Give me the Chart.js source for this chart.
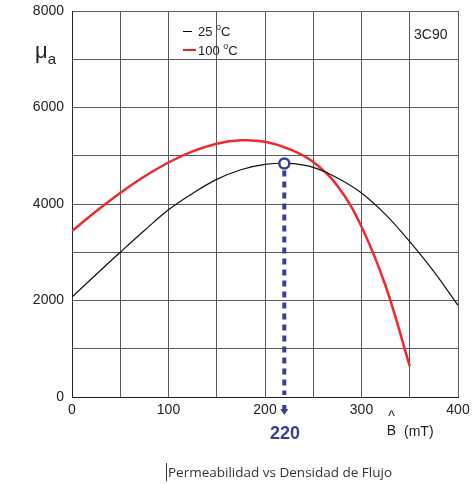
<!DOCTYPE html>
<html>
<head>
<meta charset="utf-8">
<script src="https://cdn.jsdelivr.net/npm/chart.js@4"></script>
<style>
  body { margin: 0; background: #fff; }
  #wrap { position: relative; width: 474px; height: 484px; }
  #chart { position: absolute; left: 0; top: 0; }
  .lbl { position: absolute; font-family: "Liberation Sans", Arial, sans-serif; color: #222; white-space: nowrap; }
  sup { font-size: 9px; vertical-align: 6px; }
</style>
</head>
<body>
<div id="wrap">
  <canvas id="chart" width="474" height="484"></canvas>
  <div class="lbl" style="left:183px;top:20px;font-size:13px;line-height:15px;">
    <div><span style="display:inline-block;width:9px;height:1px;background:#000;vertical-align:4px;margin-right:6px;"></span>25 <sup>o</sup>C</div>
    <div><span style="display:inline-block;width:13px;height:2px;background:#e8222a;vertical-align:4px;margin-right:2px;"></span>100 <sup>o</sup>C</div>
  </div>
  <div class="lbl" style="left:414px;top:26px;font-size:14px;">3C90</div>
  <div class="lbl" style="left:35px;top:38px;font-size:22px;">μ<span style="font-size:15px;vertical-align:-6px;">a</span></div>
  <div class="lbl" style="left:386px;top:409px;font-size:14px;line-height:14px;text-align:center;width:11px;">^<br>B</div>
  <div class="lbl" style="left:404px;top:423px;font-size:14px;">(mT)</div>
  <div class="lbl" style="left:270px;top:423px;font-size:18px;font-weight:bold;color:#3b3f92;">220</div>
  <div class="lbl" style="left:166px;top:463px;font-size:13.5px;font-family:'Open Sans','Noto Sans',sans-serif;color:#333;border-left:1px solid #333;padding-left:1px;line-height:18px;">Permeabilidad vs Densidad de Flujo</div>
</div>
<script>
// B (mT) sample points and permeability
const bField25 = [0, 25, 50, 75, 100, 125, 150, 175, 200, 225, 250, 275, 300, 325, 350, 375, 400];
const mu25 = [2070, 2540, 3000, 3450, 3880, 4220, 4510, 4710, 4820, 4840, 4760, 4540, 4230, 3780, 3220, 2600, 1900];
const bField100 = [0, 25, 50, 75, 100, 125, 150, 175, 200, 225, 250, 275, 300, 325, 350];
const mu100 = [3440, 3850, 4230, 4570, 4860, 5090, 5250, 5320, 5290, 5140, 4870, 4380, 3530, 2300, 640];
const xTicks = [0, 100, 200, 300, 400];
const yTicks = [0, 2000, 4000, 6000, 8000];
const markerB = 220;
const markerMu = 4840;

const toPoints = (xs, ys) => xs.map((x, i) => ({ x: x, y: ys[i] }));

// blue marker: circle on the 25 C curve, dotted drop line and arrow under the axis
const markerPlugin = {
  id: 'marker',
  afterDatasetsDraw(chart) {
    const ctx = chart.ctx;
    const xs = chart.scales.x, ys = chart.scales.y;
    const px = xs.getPixelForValue(markerB);
    const py = ys.getPixelForValue(markerMu);
    const bottom = chart.chartArea.bottom;
    ctx.save();
    ctx.strokeStyle = '#3b3f92';
    ctx.fillStyle = '#3b3f92';
    ctx.lineWidth = 4;
    ctx.setLineDash([6, 5]);
    ctx.beginPath();
    ctx.moveTo(px, py + 7);
    ctx.lineTo(px, bottom - 2);
    ctx.stroke();
    ctx.setLineDash([]);
    ctx.beginPath();
    ctx.moveTo(px, bottom + 8);
    ctx.lineTo(px, bottom + 13);
    ctx.stroke();
    ctx.beginPath();
    ctx.moveTo(px - 4, bottom + 12);
    ctx.lineTo(px + 4, bottom + 12);
    ctx.lineTo(px, bottom + 18);
    ctx.closePath();
    ctx.fill();
    ctx.lineWidth = 2.5;
    ctx.fillStyle = '#fff';
    ctx.beginPath();
    ctx.arc(px, py, 5, 0, Math.PI * 2);
    ctx.fill();
    ctx.stroke();
    ctx.restore();
  }
};

new Chart(document.getElementById('chart'), {
  type: 'line',
  data: {
    datasets: [
      {
        label: '25 °C',
        data: toPoints(bField25, mu25),
        borderColor: '#111',
        borderWidth: 1.2,
        pointRadius: 0,
        tension: 0.4
      },
      {
        label: '100 °C',
        data: toPoints(bField100, mu100),
        borderColor: '#ee2a2f',
        borderWidth: 2.5,
        pointRadius: 0,
        tension: 0.4
      }
    ]
  },
  options: {
    responsive: false,
    animation: false,
    layout: { padding: { top: 11, right: 16, left: 0, bottom: 0 } },
    plugins: { legend: { display: false }, tooltip: { enabled: false } },
    scales: {
      x: {
        type: 'linear',
        min: 0,
        max: 400,
        afterBuildTicks: (s) => { s.ticks = [0, 50, 100, 150, 200, 250, 300, 350, 400].map(v => ({ value: v })); },
        afterFit: (s) => { s.height = 87; s.paddingLeft = 0; s.paddingRight = 0; },
        grid: { color: '#5a5a5a', lineWidth: 1, drawTicks: false },
        border: { color: '#222', width: 1 },
        ticks: {
          padding: 5,
          maxRotation: 0,
          color: '#222',
          font: { family: 'Liberation Sans', size: 14 },
          callback: (v) => xTicks.includes(v) ? String(v) : ''
        }
      },
      y: {
        min: 0,
        max: 8000,
        afterBuildTicks: (s) => { s.ticks = [0, 1000, 2000, 3000, 4000, 5000, 6000, 7000, 8000].map(v => ({ value: v })); },
        afterFit: (s) => { s.width = 72; s.paddingTop = 0; s.paddingBottom = 0; },
        grid: { color: '#5a5a5a', lineWidth: 1, drawTicks: false },
        border: { color: '#222', width: 1 },
        ticks: {
          padding: 8,
          color: '#222',
          font: { family: 'Liberation Sans', size: 14 },
          callback: (v) => yTicks.includes(v) ? String(v) : ''
        }
      }
    }
  },
  plugins: [markerPlugin]
});
</script>
</body>
</html>
